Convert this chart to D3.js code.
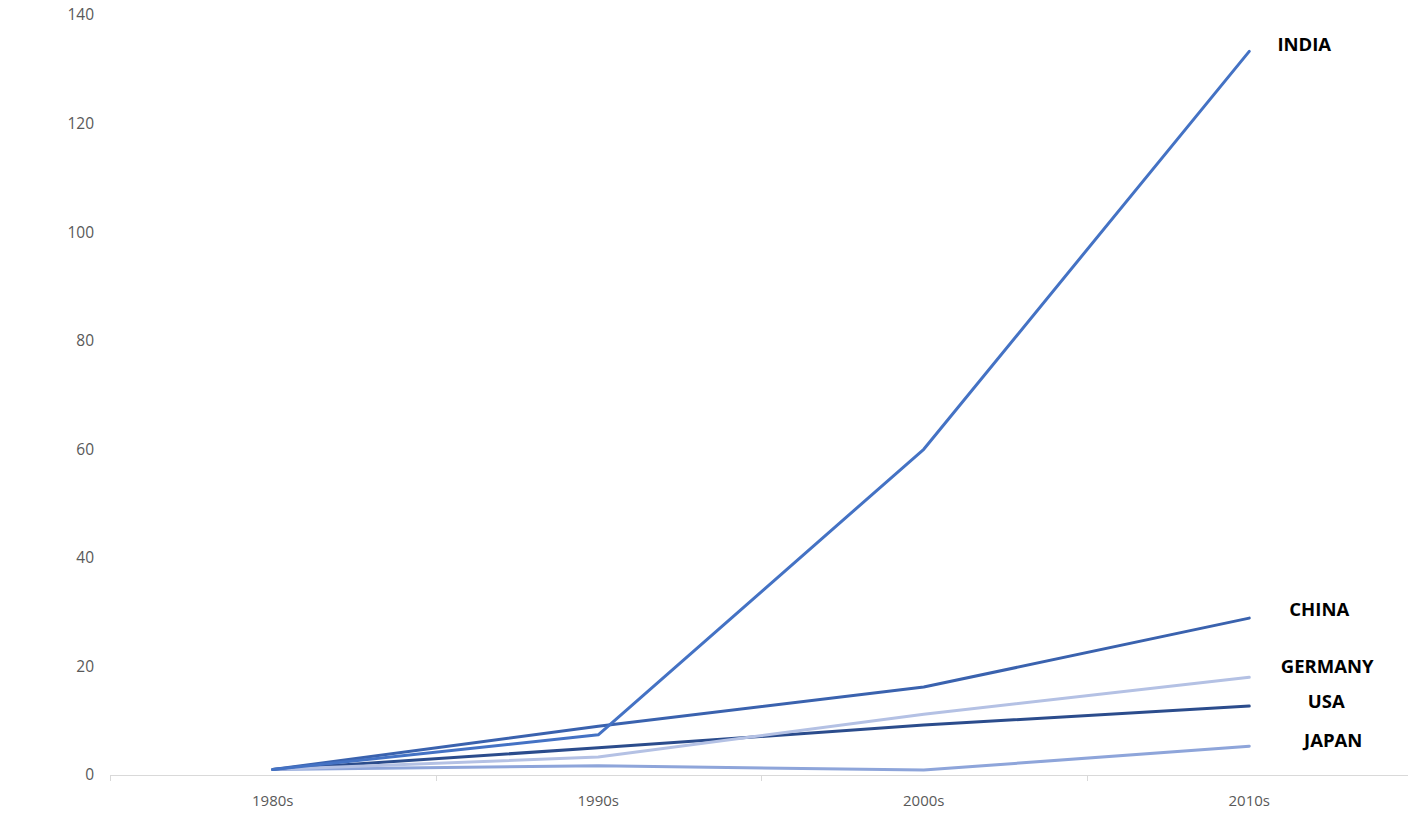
<!DOCTYPE html>
<html>
<head>
<meta charset="utf-8">
<script src="https://cdn.jsdelivr.net/npm/d3@7"></script>
<style>
  html, body { margin: 0; padding: 0; background: #fff; }
  svg { display: block; }
</style>
</head>
<body>
<svg id="chart" width="1408" height="820"></svg>
<script>
const categories = ["1980s", "1990s", "2000s", "2010s"];
const seriesNames = ["INDIA", "CHINA", "GERMANY", "USA", "JAPAN"];
const india   = [1, 7.4, 60, 133.3];
const china   = [1, 9, 16.2, 28.9];
const germany = [1, 3.3, 11.2, 18.0];
const usa     = [1, 5, 9.2, 12.7];
const japan   = [1, 1.7, 0.9, 5.3];
const yTicks = [0, 20, 40, 60, 80, 100, 120, 140];

const seriesValues = [india, china, germany, usa, japan];
const colors = ["#4472C4", "#3A62AE", "#B4C1E4", "#2B4C8C", "#8EA5DA"];
// label placement relative to line end (dx = center offset, dy)
const labelOffsets = [[55, -7], [70, -9], [78, -11], [77, -5], [84, -6]];

const svg = d3.select("#chart");
const margin = { left: 110, right: -4, top: 15, bottom: 45 };
const W = 1408, H = 820;

const x = d3.scaleBand().domain(categories).range([margin.left, W - margin.right]).paddingInner(0).paddingOuter(0);
const y = d3.scaleLinear().domain([0, 140]).range([H - margin.bottom, margin.top]);

// X axis line and ticks at band boundaries
const axisG = svg.append("g");
axisG.append("line")
  .attr("x1", margin.left).attr("x2", W)
  .attr("y1", y(0) + 0.5).attr("y2", y(0) + 0.5)
  .attr("stroke", "#D9D9D9").attr("stroke-width", 1);
const boundaries = categories.map(c => x(c)).concat([x(categories[categories.length - 1]) + x.bandwidth()]);
axisG.selectAll("line.tick").data(boundaries).enter().append("line")
  .attr("class", "tick")
  .attr("x1", d => Math.round(d) + 0.5).attr("x2", d => Math.round(d) + 0.5)
  .attr("y1", y(0)).attr("y2", y(0) + 6)
  .attr("stroke", "#D9D9D9").attr("stroke-width", 1);
axisG.selectAll("text.xl").data(categories).enter().append("text")
  .attr("class", "xl")
  .attr("x", d => x(d) + x.bandwidth() / 2)
  .attr("y", y(0) + 31)
  .attr("text-anchor", "middle")
  .attr("font-family", "'Open Sans', 'Noto Sans', sans-serif")
  .attr("font-size", 15)
  .attr("fill", "#595959")
  .text(d => d);

// Y axis labels
svg.append("g").selectAll("text").data(yTicks).enter().append("text")
  .attr("x", 94)
  .attr("y", d => y(d))
  .attr("dy", "0.35em")
  .attr("text-anchor", "end")
  .attr("font-family", "'Open Sans', 'Noto Sans', sans-serif")
  .attr("font-size", 15.5)
  .attr("fill", "#595959")
  .text(d => d);

const line = d3.line()
  .x((d, i) => x(categories[i]) + x.bandwidth() / 2)
  .y(d => y(d));

// draw in reverse so INDIA is on top
const order = [4, 3, 2, 1, 0];
order.forEach(i => {
  svg.append("path")
    .datum(seriesValues[i])
    .attr("d", line)
    .attr("fill", "none")
    .attr("stroke", colors[i])
    .attr("stroke-width", 3)
    .attr("stroke-linejoin", "round")
    .attr("stroke-linecap", "round");
});

// end labels
seriesNames.forEach((name, i) => {
  const last = seriesValues[i][categories.length - 1];
  const cx = x(categories[categories.length - 1]) + x.bandwidth() / 2;
  svg.append("text")
    .attr("x", cx + labelOffsets[i][0])
    .attr("y", y(last) + labelOffsets[i][1])
    .attr("dy", "0.35em")
    .attr("text-anchor", "middle")
    .attr("font-family", "'Open Sans', 'Noto Sans', sans-serif")
    .attr("font-weight", "bold")
    .attr("font-size", 18.5)
    .attr("fill", "#000")
    .text(name);
});
</script>
</body>
</html>
